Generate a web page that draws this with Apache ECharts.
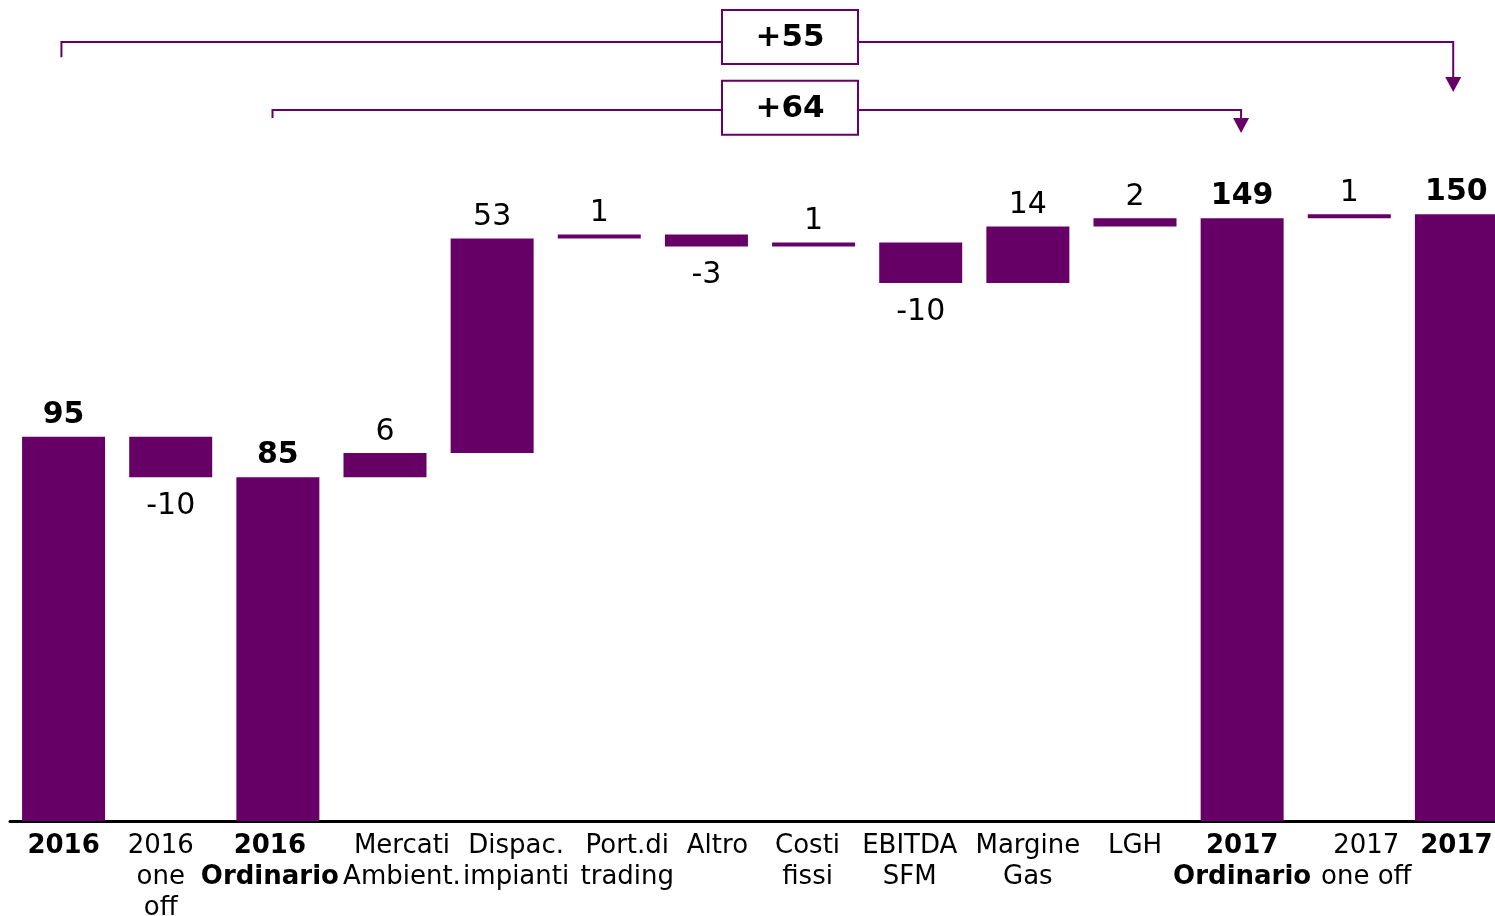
<!DOCTYPE html>
<html><head><meta charset="utf-8">
<script src="https://cdn.jsdelivr.net/npm/echarts@6/dist/echarts.min.js"></script>
<style>html,body{margin:0;padding:0;background:#fff}#c{width:1495px;height:916px}</style>
</head><body><div id="c"></div>
<script>
// ---- data ----
const categories = ['2016', '2016\none\noff', '2016\nOrdinario', 'Mercati\nAmbient.', 'Dispac.\nimpianti',
  'Port.di\ntrading', 'Altro', 'Costi\nfissi', 'EBITDA\nSFM', 'Margine\nGas', 'LGH', '2017\nOrdinario',
  '2017\none off', '2017'];
const values = [95, -10, 85, 6, 53, 1, -3, 1, -10, 14, 2, 149, 1, 150];
const isTotal = [true, false, true, false, false, false, false, false, false, false, false, true, false, true];

// bracket annotations (category position from/to, levels in value units)
const bracketFrom = [-0.02, 1.95];
const bracketTo = [12.97, 10.99];
const bracketText = ['+55', '+64'];
const bracketLevel = [192.6, 175.8];
const bracketDrop = [188.8, 173.8];
const bracketTip = [180.2, 170.1];
const boxCenterY = [193.8, 176.3];
const boxCenterX = 6.78;

// styling
const PURPLE = '#660066';
const FONT = '"DejaVu Sans", Verdana, sans-serif';
const labelNudge = [0, -10, -8, 17, 24, 28, 11, -6, -11, 0, 0, 0, 17, 0];

// ---- waterfall build ----
let running = 0;
const baseData = [], barData = [];
values.forEach((v, i) => {
  if (isTotal[i]) {
    baseData.push(0);
    barData.push({ value: v, label: { show: true, position: 'top', distance: 7, formatter: String(v), fontWeight: 'bold' } });
    running = v;
  } else {
    const start = running, end = running + v;
    baseData.push(Math.min(start, end));
    barData.push({ value: Math.abs(v), label: { show: true, position: v < 0 ? 'bottom' : 'top', distance: v < 0 ? 14 : 6, formatter: String(v), fontWeight: 'normal' } });
    running = end;
  }
});

const catData = categories.map((c, i) => {
  const n = labelNudge[i];
  return {
    value: c,
    textStyle: {
      fontWeight: isTotal[i] ? 'bold' : 'normal',
      padding: n >= 0 ? [0, 0, 0, 2 * n] : [0, -2 * n, 0, 0]
    }
  };
});

const bracketData = bracketFrom.map((f, i) => [f, bracketTo[i], bracketLevel[i], bracketDrop[i], bracketTip[i], boxCenterY[i], boxCenterX]);

const chart = echarts.init(document.getElementById('c'), null, { renderer: 'canvas' });
chart.setOption({
  animation: false,
  backgroundColor: '#fff',
  grid: { left: 10, width: 1500, top: 12, bottom: 95, containLabel: false, outerBoundsMode: 'none' },
  xAxis: [
    {
      type: 'category', data: catData,
      axisLine: { lineStyle: { color: '#000', width: 3 } },
      axisTick: { show: false },
      axisLabel: { interval: 0, color: '#000', fontFamily: FONT, fontSize: 26, lineHeight: 31, margin: 10 }
    },
    { type: 'value', min: -0.5, max: 13.5, show: false }
  ],
  yAxis: { type: 'value', min: 0, max: 200, show: false, splitLine: { show: false } },
  series: [
    {
      type: 'bar', stack: 'w', data: baseData, silent: true,
      itemStyle: { color: 'transparent' }, barWidth: 83
    },
    {
      type: 'bar', stack: 'w', data: barData, barWidth: 83,
      itemStyle: { color: PURPLE },
      label: { color: '#000', fontFamily: FONT, fontSize: 30 }
    },
    {
      type: 'custom', xAxisIndex: 1, yAxisIndex: 0, clip: false, silent: true,
      data: bracketData,
      encode: { x: [0, 1, 6], y: [2, 3, 4, 5] },
      renderItem: function (params, api) {
        const p0 = api.coord([api.value(0), api.value(2)]);
        const p1 = api.coord([api.value(1), api.value(2)]);
        const yDrop = api.coord([api.value(0), api.value(3)])[1];
        const yTip = api.coord([api.value(1), api.value(4)])[1];
        const box = api.coord([api.value(6), api.value(5)]);
        const ah = 15, aw = 8;
        return {
          type: 'group',
          children: [
            { type: 'polyline', shape: { points: [[p0[0], yDrop], [p0[0], p0[1]], [p1[0], p1[1]], [p1[0], yTip - ah + 1]] },
              style: { stroke: PURPLE, lineWidth: 2, fill: null } },
            { type: 'polygon', shape: { points: [[p1[0] - aw, yTip - ah], [p1[0] + aw, yTip - ah], [p1[0], yTip]] },
              style: { fill: PURPLE } },
            { type: 'rect', shape: { x: box[0] - 68, y: box[1] - 27, width: 136, height: 54 },
              style: { fill: '#fff', stroke: PURPLE, lineWidth: 2 } },
            { type: 'text', x: box[0], y: box[1] + 1,
              style: { text: bracketText[params.dataIndex], fill: '#000', fontFamily: FONT, fontWeight: 'bold', fontSize: 31, align: 'center', verticalAlign: 'middle' } }
          ]
        };
      }
    }
  ]
});
</script>
</body></html>
